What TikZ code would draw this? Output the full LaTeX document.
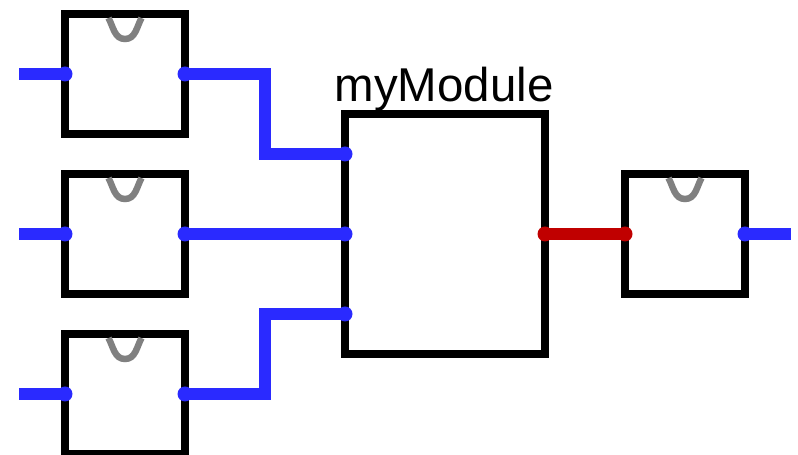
\documentclass[tikz,border=0pt]{standalone}
\usepackage{xcolor}
\usepackage{fontspec}
\setmainfont{Liberation Sans}
\definecolor{wireblue}{HTML}{2A2AFF}
\definecolor{wirered}{HTML}{C00000}
\begin{document}
\begin{tikzpicture}[
    flopbox/.style={draw=black, line width=0.15cm, minimum size=2.4cm, inner sep=0pt, outer sep=0pt},
    modbox/.style={draw=black, line width=0.15cm, minimum width=4cm, minimum height=4.8cm, inner sep=0pt, outer sep=0pt},
    clockline/.style={draw=gray, line width=0.13cm},
    wire/.style={line width=0.24cm, wireblue},
    redwire/.style={line width=0.24cm, wirered}
]
\useasboundingbox (0,0) rectangle (15.96,9.1);
\node[flopbox] (flopA) at (2.5,7.62) {};
\node[flopbox] (flopB) at (2.5,4.42) {};
\node[flopbox] (flopC) at (2.5,1.22) {};
\node[flopbox] (flopOut) at (13.7,4.42) {};
\node[modbox] (myModule) at (8.9,4.42) {};
\node[anchor=base, font=\fontsize{27}{30}\selectfont, inner sep=0pt] (modLabel) at (8.88,7.06) {myModule};
\coordinate (portA) at (6.9,6.02);
\coordinate (portC) at (6.9,2.82);
\coordinate (bendA) at (5.3,6.02);
\coordinate (bendC) at (5.3,2.82);
\coordinate (inA) at (0.38,7.62);
\coordinate (inB) at (0.38,4.42);
\coordinate (inC) at (0.38,1.22);
\coordinate (outEnd) at (15.82,4.42);
\foreach \f in {flopA,flopB,flopC,flopOut}{
    \draw[clockline] (\f.north) ++(-0.33,-0.08) to[out=-62,in=180] ++(0.33,-0.42) to[out=0,in=-118] ++(0.33,0.42);
}
\draw[wire] (inA) -- (flopA.west);
\draw[wire] (inB) -- (flopB.west);
\draw[wire] (inC) -- (flopC.west);
\draw[wire] (flopA.east) -| (bendA) -- (portA);
\draw[wire] (flopB.east) -- (myModule.west);
\draw[wire] (flopC.east) -| (bendC) -- (portC);
\draw[wire] (flopOut.east) -- (outEnd);
\draw[redwire] (myModule.east) -- (flopOut.west);
\foreach \p in {flopA.west,flopB.west,flopC.west,flopA.east,flopB.east,flopC.east,flopOut.east,portA,portC,myModule.west}{
    \fill[wireblue] (\p) circle (0.15);
}
\foreach \p in {myModule.east,flopOut.west}{
    \fill[wirered] (\p) circle (0.15);
}
\end{tikzpicture}
\end{document}
